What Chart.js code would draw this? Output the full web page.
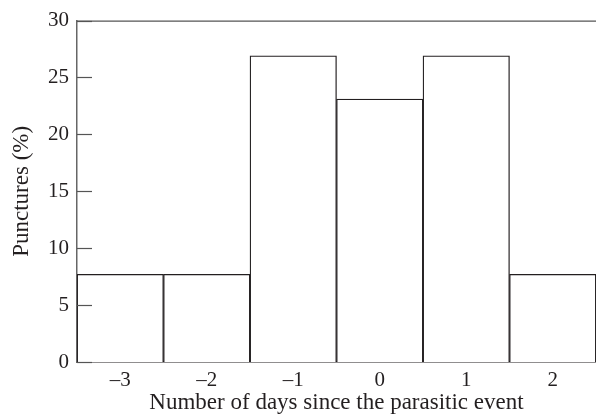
<!DOCTYPE html>
<html lang="en">
<head>
<meta charset="UTF-8">
<title>Punctures by day</title>
<script src="https://cdn.jsdelivr.net/npm/chart.js"></script>
<style>
  html, body { margin: 0; padding: 0; background: #fff; }
  #wrap { width: 596px; height: 417px; }
</style>
</head>
<body>
<div id="wrap"><canvas id="chart" width="596" height="417"></canvas></div>
<script>
// data (26 punctures: 2, 2, 7, 6, 7, 2)
const days = ['\u20133', '\u20132', '\u20131', '0', '1', '2'];
const punctures = [7.7, 7.7, 26.9, 23.1, 26.9, 7.7];
const yTicks = [0, 5, 10, 15, 20, 25, 30];

const FONT = "'Liberation Serif', 'DejaVu Serif', serif";
const INK = '#231f20';

// short inward ticks on the y axis, plus the top frame line
const frame = {
  id: 'frame',
  afterDraw(chart) {
    const { ctx, chartArea, scales } = chart;
    ctx.save();
    ctx.strokeStyle = '#555';
    ctx.lineWidth = 1.2;
    yTicks.forEach(v => {
      const y = Math.round(scales.y.getPixelForValue(v)) + 0.5;
      ctx.beginPath();
      ctx.moveTo(chartArea.left, y);
      ctx.lineTo(chartArea.left + 15, y);
      ctx.stroke();
    });
    ctx.beginPath();
    ctx.moveTo(chartArea.left, chartArea.top + 0.5);
    ctx.lineTo(chartArea.right, chartArea.top + 0.5);
    ctx.stroke();
    ctx.restore();
  }
};

new Chart(document.getElementById('chart'), {
  type: 'bar',
  data: {
    labels: days,
    datasets: [{
      data: punctures,
      backgroundColor: '#fff',
      borderColor: INK,
      borderWidth: 1.3,
      barPercentage: 1,
      categoryPercentage: 1
    }]
  },
  options: {
    responsive: false,
    animation: false,
    layout: { padding: { top: 16, right: 0, left: 0, bottom: 0 } },
    plugins: { legend: { display: false }, tooltip: { enabled: false } },
    scales: {
      x: {
        grid: { display: false, drawTicks: false },
        border: { color: INK, width: 1.5 },
        ticks: { color: INK, padding: 6, font: { family: FONT, size: 21 } },
        title: {
          display: true,
          text: 'Number of days since the parasitic event',
          color: INK,
          padding: { top: 4, bottom: 0 },
          font: { family: FONT, size: 23 }
        },
        afterFit(s) { s.height = 55; }
      },
      y: {
        min: 0,
        max: 30,
        grid: { display: false, drawTicks: false },
        border: { color: '#666', width: 1.5 },
        ticks: {
          stepSize: 5,
          color: INK,
          padding: 8,
          font: { family: FONT, size: 21 }
        },
        title: {
          display: true,
          text: 'Punctures (%)',
          color: INK,
          padding: { top: 8, bottom: 4 },
          font: { family: FONT, size: 23 }
        },
        afterFit(s) { s.width = 77; }
      }
    }
  },
  plugins: [frame]
});
</script>
</body>
</html>
